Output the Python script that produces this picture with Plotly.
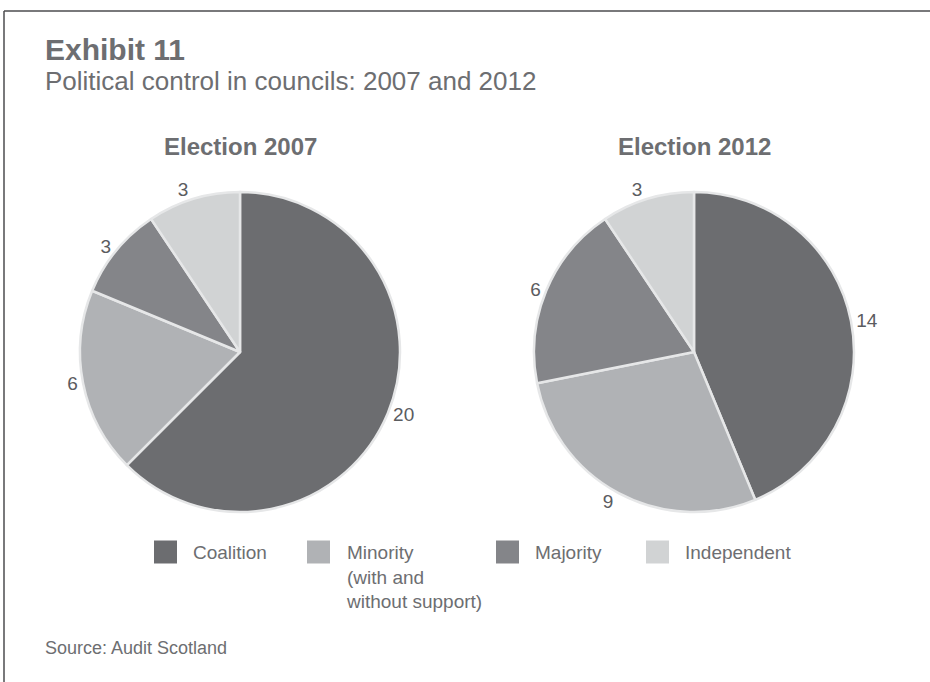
import plotly.graph_objects as go

# ---- data ----
categories = ["Coalition", "Minority<br>(with and<br>without support)", "Majority", "Independent"]
values_2007 = [20, 6, 3, 3]
values_2012 = [14, 9, 6, 3]
pie_titles = ["Election 2007", "Election 2012"]
title_text = "Exhibit 11"
subtitle_text = "Political control in councils: 2007 and 2012"
source_text = "Source: Audit Scotland"

# ---- styles ----
colors = ["#6c6d70", "#b0b2b5", "#848589", "#d1d3d4"]
W, H = 930, 682
FONT = "Liberation Sans, Arial, sans-serif"
TXT = "#6d6e71"
LBL = "#5b5c5f"


def px(x):
    return x / W


def py(y):
    return 1 - y / H


pie_boxes = [(80, 400), (534, 854)]  # x extents in pixels
pie_top, pie_bottom = 192, 512

fig = go.Figure()
for vals, (x0, x1) in zip([values_2007, values_2012], pie_boxes):
    fig.add_trace(go.Pie(
        labels=categories,
        values=vals,
        sort=False,
        direction="clockwise",
        rotation=0,
        marker=dict(colors=colors, line=dict(color="#e6e7e8", width=2.5)),
        textinfo="value",
        textposition="outside",
        textfont=dict(family=FONT, size=19, color=LBL),
        showlegend=False,
        hoverinfo="label+value",
        domain=dict(x=[px(x0), px(x1)], y=[py(pie_bottom), py(pie_top)]),
    ))

annotations = []
shapes = []

# header
annotations.append(dict(text="<b>" + title_text + "</b>", x=px(43), y=py(49), xref="paper", yref="paper",
                        xanchor="left", yanchor="middle", showarrow=False,
                        font=dict(family=FONT, size=30, color=TXT)))
annotations.append(dict(text=subtitle_text, x=px(43), y=py(81), xref="paper", yref="paper",
                        xanchor="left", yanchor="middle", showarrow=False,
                        font=dict(family=FONT, size=26, color=TXT)))
# pie titles
for t, (x0, x1) in zip(pie_titles, pie_boxes):
    annotations.append(dict(text="<b>" + t + "</b>", x=px((x0 + x1) / 2), y=py(146), xref="paper", yref="paper",
                            xanchor="center", yanchor="middle", showarrow=False,
                            font=dict(family=FONT, size=24, color=TXT)))

# legend (custom)
legend_x = [154, 307, 496, 646]
sq = 23
leg_y = 552
for cat, col, lx in zip(categories, colors, legend_x):
    shapes.append(dict(type="rect", xref="paper", yref="paper",
                       x0=px(lx), x1=px(lx + sq), y0=py(leg_y + sq / 2), y1=py(leg_y - sq / 2),
                       fillcolor=col, line=dict(width=0)))
    annotations.append(dict(text=cat, x=px(lx + sq + 14), y=py(leg_y - 12), xref="paper", yref="paper",
                            xanchor="left", yanchor="top", align="left", showarrow=False,
                            font=dict(family=FONT, size=19, color=TXT)))

# source
annotations.append(dict(text=source_text, x=px(43), y=py(648), xref="paper", yref="paper",
                        xanchor="left", yanchor="middle", showarrow=False,
                        font=dict(family=FONT, size=18, color=TXT)))

# frame lines (top and left)
shapes.append(dict(type="line", xref="paper", yref="paper", x0=px(4), x1=1, y0=py(11), y1=py(11),
                   line=dict(color="#4d4d4f", width=1.5)))
shapes.append(dict(type="line", xref="paper", yref="paper", x0=px(4), x1=px(4), y0=py(11), y1=0,
                   line=dict(color="#4d4d4f", width=1.5)))

fig.update_layout(
    width=W, height=H,
    margin=dict(l=0, r=0, t=0, b=0),
    paper_bgcolor="white", plot_bgcolor="white",
    annotations=annotations, shapes=shapes,
    font=dict(family=FONT, color=TXT),
)

fig.write_html("out.html", config={"displayModeBar": False},
               post_script="document.body.style.margin='0';")
